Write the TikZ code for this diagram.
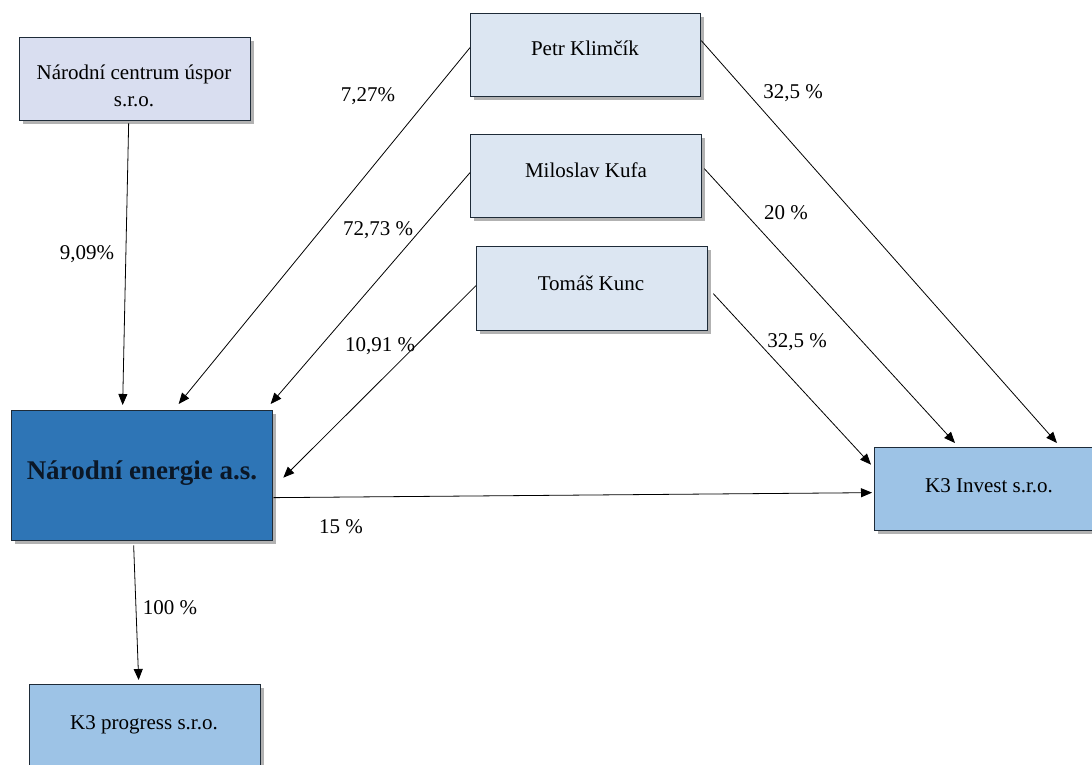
\documentclass[tikz,border=0pt]{standalone}
\usepackage{fontspec}
\setmainfont{Liberation Serif}
\usetikzlibrary{arrows.meta,shadows,positioning}
\definecolor{ncufill}{HTML}{D9DEF0}
\definecolor{personfill}{HTML}{DCE6F2}
\definecolor{nefill}{HTML}{2E75B6}
\definecolor{kfill}{HTML}{9DC3E6}
\definecolor{boxline}{HTML}{1E2B38}
\definecolor{netext}{HTML}{0B1726}
\tikzset{
  box/.style={draw=boxline, line width=1.3pt, anchor=north west, inner sep=0pt,
    drop shadow={shadow xshift=3pt, shadow yshift=-3pt, fill=black, opacity=0.3}},
  txt/.style={font=\fontsize{21}{27}\selectfont, text=black, inner sep=0pt, align=center},
  pct/.style={font=\fontsize{21}{27}\selectfont, text=black, inner sep=0pt},
  arr/.style={draw=black, line width=0.8pt, -{Triangle[length=11pt,width=9pt]}}
}
\begin{document}
\begin{tikzpicture}[x=1pt,y=-1pt]
\useasboundingbox (0,0) rectangle (1092,765);
\fill[white] (0,0) rectangle (1092,765);
% boxes
\node[box, fill=ncufill, minimum width=231pt, minimum height=83pt] (ncu) at (19,37) {};
\node[box, fill=personfill, minimum width=230pt, minimum height=83pt] (petr) at (470,13) {};
\node[box, fill=personfill, minimum width=231pt, minimum height=83pt] (kufa) at (470,134) {};
\node[box, fill=personfill, minimum width=231pt, minimum height=84pt] (kunc) at (476,246) {};
\node[box, fill=nefill, minimum width=261pt, minimum height=130pt] (ne) at (11,410) {};
\node[box, fill=kfill, minimum width=222pt, minimum height=83pt] (k3i) at (874,447) {};
\node[box, fill=kfill, minimum width=231pt, minimum height=83pt] (k3p) at (29,684) {};
% texts
\node[txt] (ncuT) at (134,86) {Národní centrum úspor\\s.r.o.};
\node[txt, text height=14pt, text depth=0pt] (petrT) at (585,49) {Petr Klimčík};
\node[txt, text height=14pt, text depth=0pt] (kufaT) at (586,170) {Miloslav Kufa};
\node[txt, text height=14pt, text depth=0pt] (kuncT) at (591,283) {Tomáš Kunc};
\node[txt, text height=18pt, text depth=0pt, font=\fontsize{27}{32}\selectfont\bfseries, text=netext] (neT) at (142,470) {Národní energie a.s.};
\node[txt, text height=14pt, text depth=0pt] (k3iT) at (989,485) {K3 Invest s.r.o.};
\node[txt, text height=14pt, text depth=0pt] (k3pT) at (144,722) {K3 progress s.r.o.};
% connectors
\draw[arr] ([xshift=-6.5pt,yshift=-2pt]ncu.south) -- ([xshift=-19.5pt,yshift=5pt]ne.north);
\draw[arr] ([yshift=7.5pt]petr.west) -- ([xshift=36.5pt,yshift=6pt]ne.north);
\draw[arr] ([yshift=3.5pt]kufa.west) -- ([xshift=128.5pt,yshift=6pt]ne.north);
\draw[arr] ([yshift=3pt]kunc.west) -- ([xshift=10pt,yshift=-2pt]ne.east);
\draw[arr] ([yshift=-22pt]ne.east) -- ([xshift=-2pt,yshift=-3.5pt]k3i.west);
\draw[arr] ([xshift=-8.5pt,yshift=-4pt]ne.south) -- ([xshift=-6.5pt,yshift=4pt]k3p.north);
\draw[arr] ([yshift=14.5pt]petr.east) -- ([xshift=183pt,yshift=4pt]k3i.north west);
\draw[arr] ([xshift=2pt,yshift=7.5pt]kufa.east) -- ([xshift=81pt,yshift=4pt]k3i.north west);
\draw[arr] ([xshift=5pt,yshift=-5pt]kunc.east) -- ([xshift=-3pt,yshift=24.5pt]k3i.west);
% labels
\node[pct] (l1) at (368,96) {7,27\%};
\node[pct] (l2) at (378,230) {72,73 \%};
\node[pct] (l3) at (87,254) {9,09\%};
\node[pct] (l4) at (380,346) {10,91 \%};
\node[pct] (l5) at (793,93) {32,5 \%};
\node[pct] (l6) at (786,213) {20 \%};
\node[pct] (l7) at (797,342) {32,5 \%};
\node[pct] (l8) at (341,527) {15 \%};
\node[pct] (l9) at (170,608) {100 \%};
\end{tikzpicture}
\end{document}
